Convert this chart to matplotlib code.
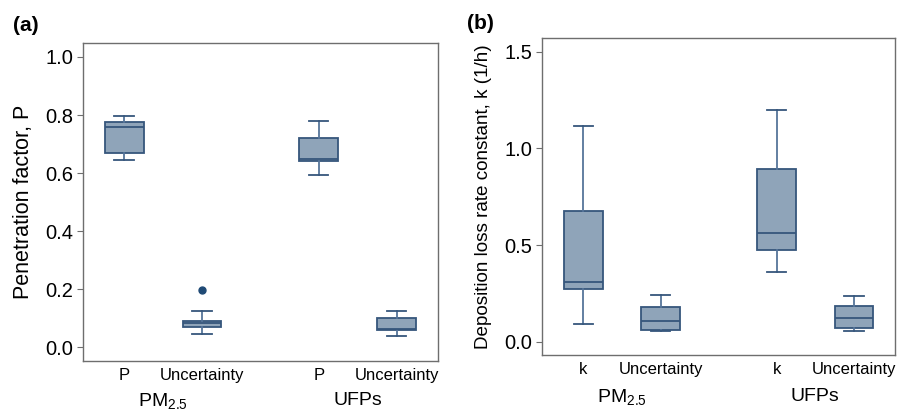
import matplotlib
matplotlib.use("Agg")
import matplotlib.pyplot as plt

plt.rcParams['font.family'] = ['Liberation Sans', 'DejaVu Sans']
plt.rcParams['mathtext.fontset'] = 'custom'
plt.rcParams['mathtext.rm'] = 'Liberation Sans'
plt.rcParams['mathtext.it'] = 'Liberation Sans'

# Five-number summaries: (whisker low, Q1, median, Q3, whisker high)
positions = [1, 2, 3.5, 4.5]
groups = ["PM$_{2.5}$", "UFPs"]

pen_labels = ["P", "Uncertainty", "P", "Uncertainty"]
pen_low = [0.646, 0.047, 0.595, 0.039]
pen_q1 = [0.668, 0.071, 0.642, 0.060]
pen_med = [0.757, 0.083, 0.650, 0.063]
pen_q3 = [0.775, 0.092, 0.721, 0.100]
pen_high = [0.795, 0.124, 0.779, 0.126]
pen_fliers = [[], [0.199], [], []]

dep_labels = ["k", "Uncertainty", "k", "Uncertainty"]
dep_low = [0.092, 0.054, 0.361, 0.057]
dep_q1 = [0.274, 0.061, 0.473, 0.072]
dep_med = [0.310, 0.109, 0.564, 0.124]
dep_q3 = [0.674, 0.180, 0.892, 0.186]
dep_high = [1.116, 0.242, 1.200, 0.236]
dep_fliers = [[], [], [], []]

FILL = "#8fa4b9"
EDGE = "#36567c"
WHISK = "#56759a"
FRAME = "#6e6e6e"


def stats(labels, lo, q1, med, q3, hi, fl):
    return [dict(label=l, whislo=a, q1=b, med=c, q3=d, whishi=e, fliers=f)
            for l, a, b, c, d, e, f in zip(labels, lo, q1, med, q3, hi, fl)]


def draw(ax, st, ylim, yticks, ylabel, ylabel_size, labelpad):
    ax.bxp(st, positions=positions, widths=0.5, patch_artist=True,
           boxprops=dict(facecolor=FILL, edgecolor=EDGE, linewidth=1.3),
           medianprops=dict(color=EDGE, linewidth=1.3),
           whiskerprops=dict(color=WHISK, linewidth=1.3),
           capprops=dict(color=EDGE, linewidth=1.3),
           capwidths=0.25,
           flierprops=dict(marker="o", markerfacecolor="#1f4a75",
                           markeredgecolor="#1f4a75", markersize=5))
    ax.set_xlim(0.47, 5.03)
    ax.set_ylim(*ylim)
    ax.set_yticks(yticks)
    ax.set_yticklabels([f"{t:.1f}" for t in yticks])
    ax.tick_params(axis="y", length=4, color=FRAME, labelsize=14.5, pad=3)
    ax.tick_params(axis="x", length=0, labelsize=12, pad=5)
    for s in ax.spines.values():
        s.set_color(FRAME)
        s.set_linewidth(1.0)
    ax.set_ylabel(ylabel, fontsize=ylabel_size, labelpad=labelpad)


fig = plt.figure(figsize=(8.97, 4.11), dpi=100)

ax1 = fig.add_axes([0.0925, 0.1217, 0.3955, 0.7737])
draw(ax1, stats(pen_labels, pen_low, pen_q1, pen_med, pen_q3, pen_high, pen_fliers),
     (-0.047, 1.048), [0.0, 0.2, 0.4, 0.6, 0.8, 1.0], "Penetration factor, P", 15.5, 8)

ax2 = fig.add_axes([0.6046, 0.1355, 0.3932, 0.7728])
draw(ax2, stats(dep_labels, dep_low, dep_q1, dep_med, dep_q3, dep_high, dep_fliers),
     (-0.070, 1.572), [0.0, 0.5, 1.0, 1.5], "Deposition loss rate constant, k (1/h)", 13.6, 9)

# Group labels below tick labels
for ax, yoff in ((ax1, -0.125), (ax2, -0.13)):
    for g, (a, b) in zip(groups, ((positions[0], positions[1]), (positions[2], positions[3]))):
        ax.text((a + b) / 2, yoff, g, transform=ax.get_xaxis_transform(),
                ha="center", va="center", fontsize=14)

fig.text(0.014, 0.939, "(a)", fontsize=15, fontweight="bold", ha="left", va="center")
fig.text(0.521, 0.942, "(b)", fontsize=15, fontweight="bold", ha="left", va="center")

fig.savefig("out.png", dpi=100)
